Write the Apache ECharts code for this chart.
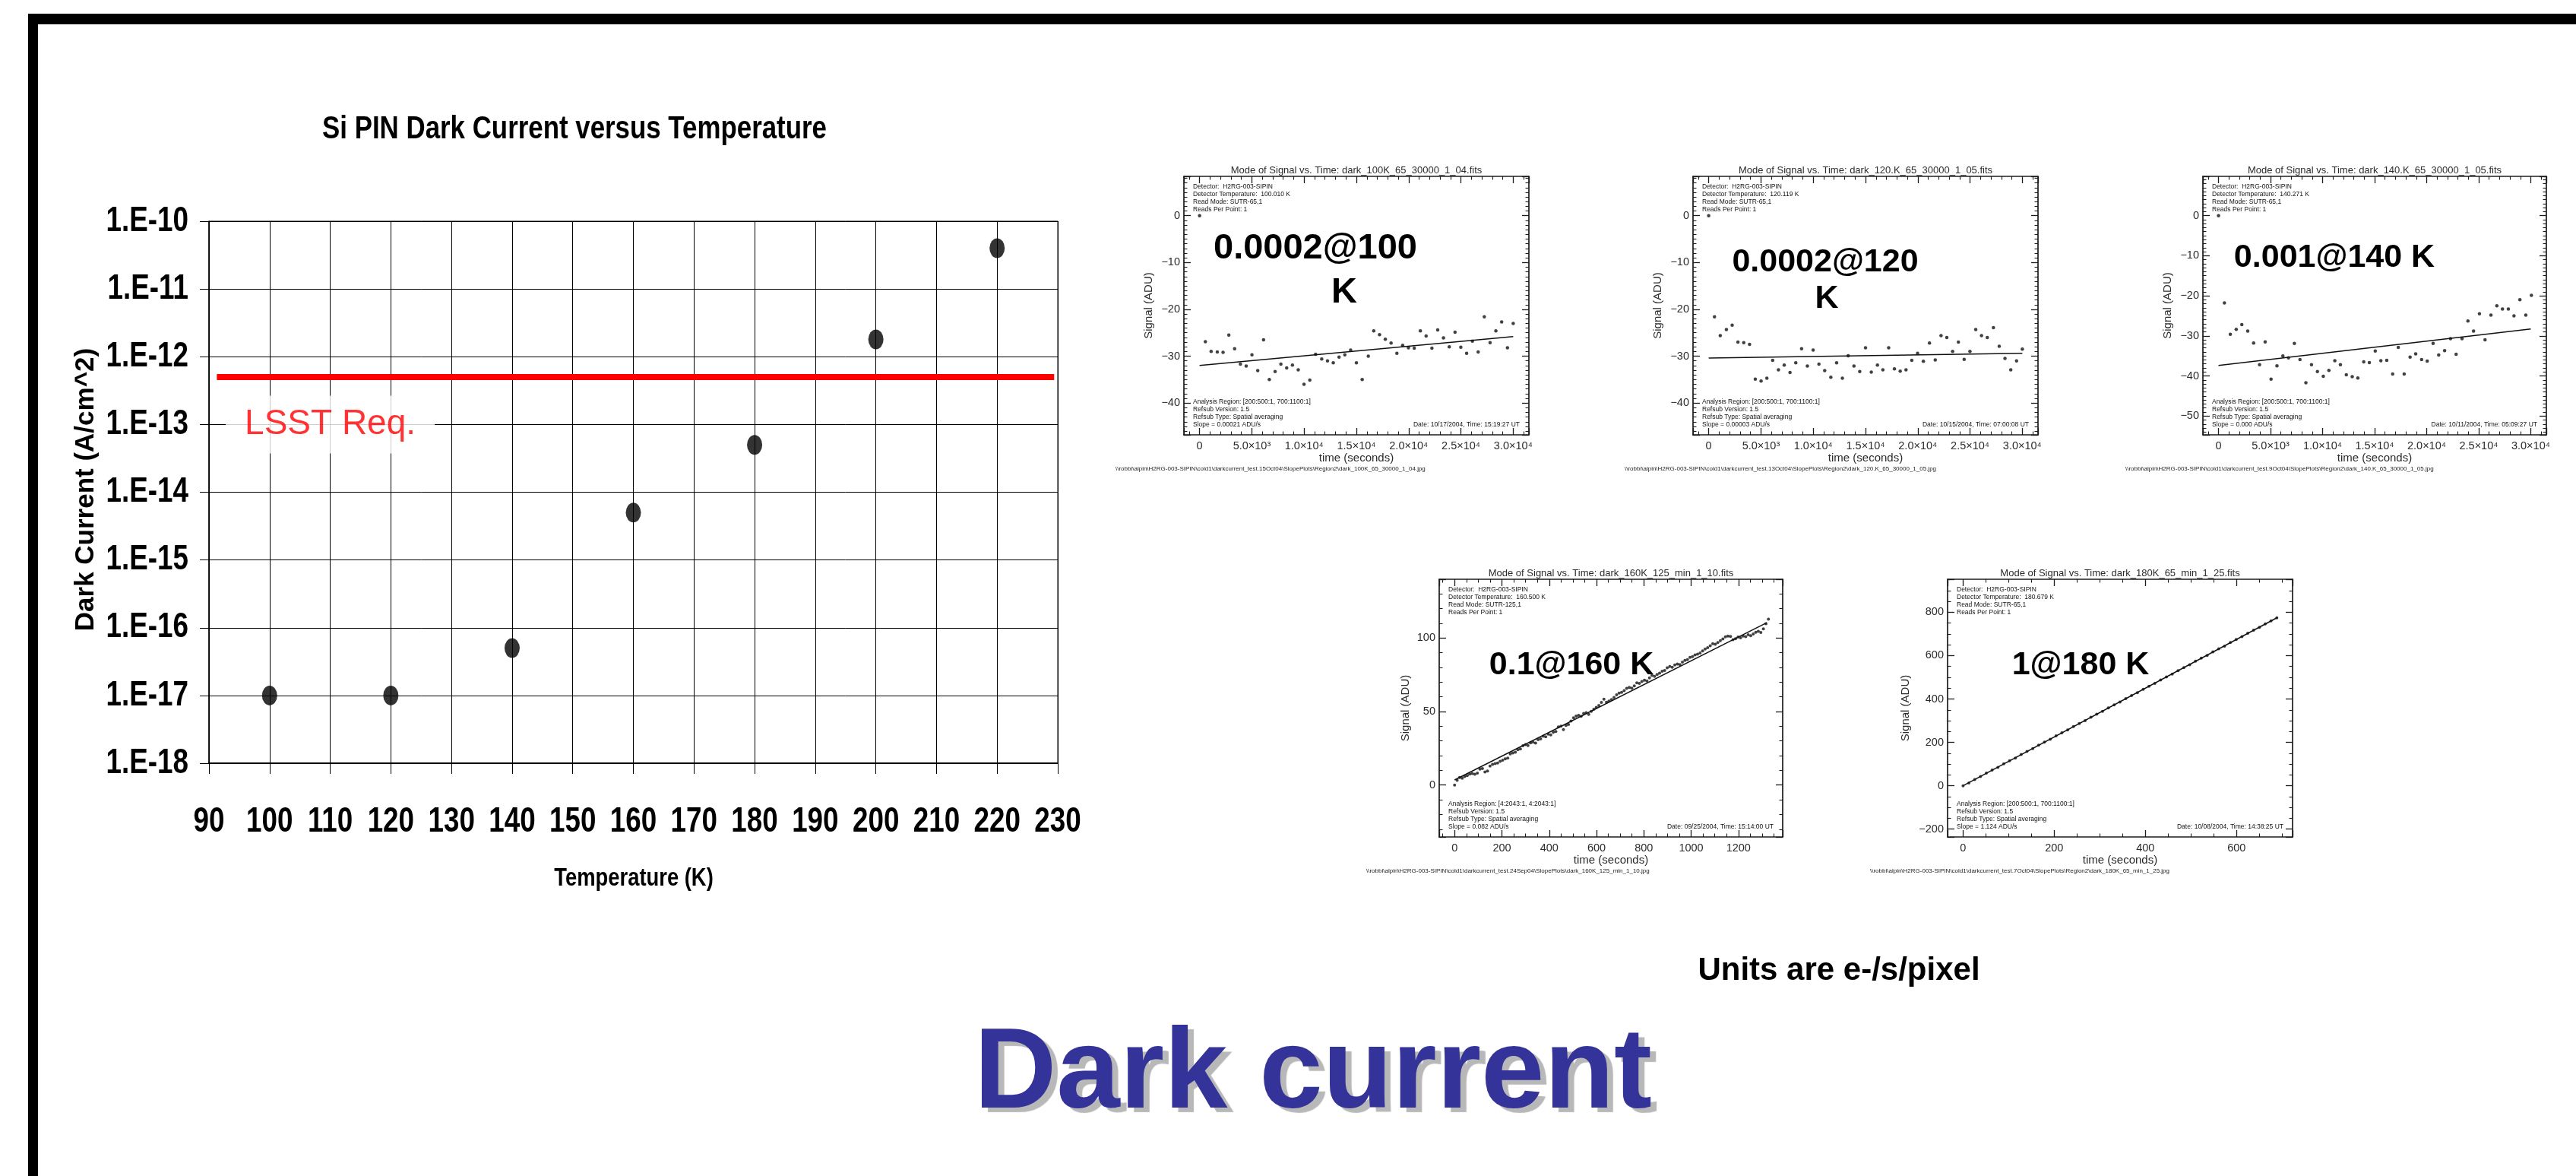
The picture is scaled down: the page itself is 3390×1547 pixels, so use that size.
<!DOCTYPE html>
<html>
<head>
<meta charset="utf-8">
<script src="https://cdn.jsdelivr.net/npm/echarts@6/dist/echarts.min.js"></script>
<style>
  html, body { margin: 0; padding: 0; background: #ffffff; }
  #slide { width: 3390px; height: 1547px; }
</style>
</head>
<body>
<div id="slide"></div>
<script>
// ---------------- Si PIN dark current versus temperature ----------------
const temperaturesK = [100, 120, 140, 160, 180, 200, 220];
const darkCurrentAcm2 = [1e-17, 1e-17, 5e-17, 5e-15, 5e-14, 1.8e-12, 4e-11];
const lsstRequirement = 5e-13;
const lsstSpanK = [91.3, 229.4];
const lsstLabelAt = [110, 1e-13];
const temperatureTicks = [90, 100, 110, 120, 130, 140, 150, 160, 170, 180, 190, 200, 210, 220, 230];
const decadeValues = [1e-18, 1e-17, 1e-16, 1e-15, 1e-14, 1e-13, 1e-12, 1e-11, 1e-10];
const decadeLabels = ['1.E-18', '1.E-17', '1.E-16', '1.E-15', '1.E-14', '1.E-13', '1.E-12', '1.E-11', '1.E-10'];

// ---------------- signal ramps (ADU versus seconds) ----------------
const times100 = [0, 553, 1106, 1692, 2245, 2798, 3352, 3905, 4458, 5011, 5564, 6118, 6671, 7224, 7777, 8330, 8883, 9437, 9990, 10543,
  11096, 11682, 12235, 12788, 13341, 13894, 14448, 15001, 15554, 16140, 16660, 17214, 17767, 18320, 18873, 19426, 19980, 20533, 21118, 21671,
  22225, 22778, 23331, 23884, 24437, 24990, 25544, 26097, 26650, 27236, 27789, 28342, 28895, 29448, 30001];
const signal100 = [0, -26.9, -29.0, -29.1, -29.2, -25.5, -28.4, -31.7, -32.1, -29.7, -33.1, -26.5, -35.0, -33.3, -31.7, -32.5, -31.9, -32.9, -36.0, -35.1,
  -29.6, -30.6, -31.0, -31.4, -30.2, -29.7, -28.7, -31.4, -35.0, -30.0, -24.6, -25.4, -26.4, -27.2, -29.4, -27.7, -28.2, -28.3, -24.6, -25.7,
  -28.3, -24.4, -26.1, -28.0, -24.9, -28.1, -29.4, -26.8, -29.1, -21.6, -27.1, -24.6, -22.7, -28.2, -23.0];
const fit100 = [[0, -32.0], [30000, -25.8]];

const times120 = [0, 553, 1106, 1692, 2245, 2798, 3352, 3905, 4458, 5011, 5564, 6118, 6671, 7224, 7777, 8330, 8883, 9437, 9990, 10543,
  11096, 11682, 12235, 12788, 13341, 13894, 14448, 15001, 15554, 16140, 16660, 17214, 17767, 18320, 18873, 19426, 19980, 20533, 21118, 21671,
  22225, 22778, 23331, 23884, 24437, 24990, 25544, 26097, 26650, 27236, 27789, 28342, 28895, 29448, 30001];
const signal120 = [0, -21.6, -25.6, -24.3, -23.4, -27.0, -27.1, -27.5, -34.9, -35.3, -34.7, -30.9, -32.9, -31.9, -33.5, -31.4, -28.4, -32.1, -28.7, -31.7,
  -33.1, -34.5, -31.4, -34.7, -29.9, -32.1, -33.3, -28.2, -33.4, -31.9, -32.9, -28.2, -32.7, -33.2, -32.9, -30.9, -29.4, -31.1, -27.2, -30.8,
  -25.6, -26.0, -29.0, -27.0, -30.7, -29.0, -24.3, -25.6, -26.0, -23.9, -27.9, -30.5, -32.9, -31.0, -28.5];
const fit120 = [[0, -30.4], [30000, -29.4]];

const times140 = [0, 567, 1134, 1702, 2240, 2808, 3375, 3942, 4481, 5048, 5615, 6183, 6722, 7289, 7827, 8394, 8933, 9501, 10068, 10607,
  11174, 11712, 12280, 12847, 13386, 13953, 14492, 15059, 15598, 16165, 16732, 17271, 17838, 18406, 18944, 19512, 20050, 20618, 21157, 21724,
  22291, 22830, 23397, 23964, 24503, 25070, 25609, 26176, 26743, 27282, 27849, 28388, 28956, 29523, 30062];
const signal140 = [0, -21.8, -29.6, -28.4, -27.2, -28.8, -31.8, -37.2, -31.5, -40.8, -37.5, -35.0, -35.5, -31.9, -35.9, -41.7, -37.2, -38.9, -40.1, -38.6,
  -36.2, -37.2, -39.7, -40.2, -40.5, -36.5, -36.7, -33.8, -36.2, -36.1, -39.5, -32.9, -39.5, -35.3, -34.5, -35.9, -36.3, -31.9, -34.8, -33.7,
  -30.7, -34.6, -30.7, -26.3, -28.8, -24.5, -31.0, -24.8, -22.5, -23.3, -23.3, -25.0, -21.0, -24.8, -19.9];
const fit140 = [[0, -37.4], [30000, -28.3]];

const times160 = [0.0, 10.7, 21.4, 32.1, 42.8, 53.5, 64.2, 74.9, 85.6, 96.3, 107.0, 117.7, 128.4, 139.1, 149.8, 160.5, 171.2, 181.9, 192.6, 203.3,
  214.0, 224.7, 235.4, 246.1, 256.8, 267.5, 278.2, 288.9, 299.6, 310.3, 321.0, 331.7, 342.4, 353.1, 363.8, 374.5, 385.2, 395.9, 406.6, 417.3,
  428.0, 438.7, 449.4, 460.1, 470.8, 481.5, 492.2, 502.9, 513.6, 524.3, 535.0, 545.7, 556.4, 567.1, 577.8, 588.5, 599.2, 609.9, 620.6, 631.3,
  642.0, 652.7, 663.4, 674.1, 684.8, 695.5, 706.2, 716.9, 727.6, 738.3, 749.0, 759.7, 770.4, 781.1, 791.8, 802.5, 813.2, 823.9, 834.6, 845.3,
  856.0, 866.7, 877.4, 888.1, 898.8, 909.5, 920.2, 930.9, 941.6, 952.3, 963.0, 973.7, 984.4, 995.1, 1005.8, 1016.5, 1027.2, 1037.9, 1048.6, 1059.3,
  1070.0, 1080.7, 1091.4, 1102.1, 1112.8, 1123.5, 1134.2, 1144.9, 1155.6, 1166.3, 1177.0, 1187.7, 1198.4, 1209.1, 1219.8, 1230.5, 1241.2, 1251.9, 1262.6, 1273.3,
  1284.0, 1294.7, 1305.4, 1316.1, 1326.8];
const signal160 = [0.0, 3.2, 5.1, 4.6, 5.8, 6.4, 7.5, 7.9, 7.4, 8.1, 10.8, 11.3, 8.9, 9.6, 12.9, 14.1, 14.6, 15.0, 16.2, 16.9,
  17.8, 18.3, 21.2, 21.9, 22.4, 24.1, 24.6, 26.8, 27.5, 26.9, 28.7, 29.2, 28.6, 30.9, 31.4, 33.2, 32.8, 34.6, 34.1, 35.9,
  36.4, 39.5, 40.1, 37.8, 40.6, 41.2, 43.5, 45.8, 46.9, 47.4, 46.8, 48.7, 49.3, 48.1, 50.2, 51.6, 52.9, 54.1, 56.2, 58.4,
  56.3, 57.1, 58.2, 59.6, 61.4, 62.6, 63.1, 64.3, 65.8, 66.4, 65.9, 67.5, 69.6, 69.1, 70.4, 71.3, 70.8, 72.9, 74.6, 73.9,
  75.2, 76.1, 77.4, 77.9, 79.8, 80.6, 80.1, 81.7, 82.3, 81.9, 83.6, 84.8, 85.3, 86.9, 87.4, 88.6, 89.1, 89.9, 91.2, 92.6,
  93.4, 94.7, 96.2, 95.8, 96.9, 98.2, 99.4, 100.8, 101.3, 101.1, 98.9, 99.6, 100.7, 100.2, 101.4, 100.9, 102.3, 101.6, 102.8, 103.9,
  104.6, 103.8, 106.2, 109.7, 112.9];
const fit160 = [[0, 3.5], [1320, 110.5]];

const times180 = [0, 12.75, 25.5, 38.25, 51.0, 63.75, 76.5, 89.25, 102.0, 114.75, 127.5, 140.25, 153.0, 165.75, 178.5, 191.25, 204.0, 216.75, 229.5, 242.25,
  255.0, 267.75, 280.5, 293.25, 306.0, 318.75, 331.5, 344.25, 357.0, 369.75, 382.5, 395.25, 408.0, 420.75, 433.5, 446.25, 459.0, 471.75, 484.5, 497.25,
  510.0, 522.75, 535.5, 548.25, 561.0, 573.75, 586.5, 599.25, 612.0, 624.75, 637.5, 650.25, 663.0, 675.75, 688.5];
const signal180 = [0, 13, 29, 43, 58, 72, 85, 101, 115, 128, 144, 158, 171, 187, 201, 214, 230, 244, 257, 273,
  287, 300, 316, 330, 343, 359, 373, 386, 402, 416, 429, 445, 459, 472, 488, 502, 515, 531, 545, 558,
  574, 588, 601, 617, 631, 644, 660, 674, 687, 703, 717, 730, 746, 760, 774];
const fit180 = [[0, 0], [690, 776]];

const longTimeTicks = [0, 5000, 10000, 15000, 20000, 25000, 30000];
const longTimeLabels = ['0', '5.0×10³', '1.0×10⁴', '1.5×10⁴', '2.0×10⁴', '2.5×10⁴', '3.0×10⁴'];

// ---------------- text printed on each ramp plot ----------------
const rampTitles = [
  'Mode of Signal vs. Time: dark_100K_65_30000_1_04.fits',
  'Mode of Signal vs. Time: dark_120.K_65_30000_1_05.fits',
  'Mode of Signal vs. Time: dark_140.K_65_30000_1_05.fits',
  'Mode of Signal vs. Time: dark_160K_125_min_1_10.fits',
  'Mode of Signal vs. Time: dark_180K_65_min_1_25.fits'
];
const rampHeaders = [
  ['Detector:  H2RG-003-SIPIN', 'Detector Temperature:  100.010 K', 'Read Mode: SUTR-65,1', 'Reads Per Point: 1'],
  ['Detector:  H2RG-003-SIPIN', 'Detector Temperature:  120.119 K', 'Read Mode: SUTR-65,1', 'Reads Per Point: 1'],
  ['Detector:  H2RG-003-SIPIN', 'Detector Temperature:  140.271 K', 'Read Mode: SUTR-65,1', 'Reads Per Point: 1'],
  ['Detector:  H2RG-003-SIPIN', 'Detector Temperature:  160.500 K', 'Read Mode: SUTR-125,1', 'Reads Per Point: 1'],
  ['Detector:  H2RG-003-SIPIN', 'Detector Temperature:  180.679 K', 'Read Mode: SUTR-65,1', 'Reads Per Point: 1']
];
const rampFooters = [
  ['Analysis Region: [200:500:1, 700:1100:1]', 'Refsub Version: 1.5', 'Refsub Type: Spatial averaging', 'Slope = 0.00021 ADU/s'],
  ['Analysis Region: [200:500:1, 700:1100:1]', 'Refsub Version: 1.5', 'Refsub Type: Spatial averaging', 'Slope = 0.00003 ADU/s'],
  ['Analysis Region: [200:500:1, 700:1100:1]', 'Refsub Version: 1.5', 'Refsub Type: Spatial averaging', 'Slope = 0.000 ADU/s'],
  ['Analysis Region: [4:2043:1, 4:2043:1]', 'Refsub Version: 1.5', 'Refsub Type: Spatial averaging', 'Slope = 0.082 ADU/s'],
  ['Analysis Region: [200:500:1, 700:1100:1]', 'Refsub Version: 1.5', 'Refsub Type: Spatial averaging', 'Slope = 1.124 ADU/s']
];
const rampDates = [
  'Date: 10/17/2004, Time: 15:19:27 UT',
  'Date: 10/15/2004, Time: 07:00:08 UT',
  'Date: 10/11/2004, Time: 05:09:27 UT',
  'Date: 09/25/2004, Time: 15:14:00 UT',
  'Date: 10/08/2004, Time: 14:38:25 UT'
];
const rampFiles = [
  String.raw`\\robbi\alpin\H2RG-003-SIPIN\cold1\darkcurrent_test.15Oct04\SlopePlots\Region2\dark_100K_65_30000_1_04.jpg`,
  String.raw`\\robbi\alpin\H2RG-003-SIPIN\cold1\darkcurrent_test.13Oct04\SlopePlots\Region2\dark_120.K_65_30000_1_05.jpg`,
  String.raw`\\robbi\alpin\H2RG-003-SIPIN\cold1\darkcurrent_test.9Oct04\SlopePlots\Region2\dark_140.K_65_30000_1_05.jpg`,
  String.raw`\\robbi\alpin\H2RG-003-SIPIN\cold1\darkcurrent_test.24Sep04\SlopePlots\dark_160K_125_min_1_10.jpg`,
  String.raw`\\robbi\alpin\H2RG-003-SIPIN\cold1\darkcurrent_test.7Oct04\SlopePlots\Region2\dark_180K_65_min_1_25.jpg`
];
const rateCallouts = [['0.0002@100', 'K'], ['0.0002@120', 'K'], ['0.001@140 K'], ['0.1@160 K'], ['1@180 K']];

// ---------------- layout & styling ----------------
const SANS = "'Liberation Sans', Arial, Helvetica, sans-serif";
const NARROW_SCALE = 0.8;   // horizontal squeeze that gives the condensed look of the main chart lettering
const INK = '#1c1c1c';

const mainBox = { left: 275, top: 291, width: 1117, height: 713 };

const ramps = [
  { box: { left: 1558, top: 232, width: 454, height: 340 }, x: [-1500, 31500], y: [-46.8, 8.4], xSplit: 6, ySplit: 6, xMinor: 5, yMinor: 10,
    t: times100, s: signal100, fit: fit100, longTime: true, nameGapY: 39, fileX: 1468,
    callout: [{ x: 1731, y: 327, size: 47 }, { x: 1769, y: 385, size: 47 }] },
  { box: { left: 2228, top: 232, width: 454, height: 340 }, x: [-1500, 31500], y: [-46.8, 8.4], xSplit: 6, ySplit: 6, xMinor: 5, yMinor: 10,
    t: times120, s: signal120, fit: fit120, longTime: true, nameGapY: 39, fileX: 2138,
    callout: [{ x: 2402, y: 345, size: 43 }, { x: 2404, y: 393, size: 43 }] },
  { box: { left: 2899, top: 232, width: 452, height: 340 }, x: [-1500, 31500], y: [-54.7, 9.8], xSplit: 6, ySplit: 6, xMinor: 5, yMinor: 10,
    t: times140, s: signal140, fit: fit140, longTime: true, nameGapY: 39, fileX: 2797,
    callout: [{ x: 3072, y: 339, size: 43 }] },
  { box: { left: 1894, top: 762, width: 452, height: 339 }, x: [-65, 1387], y: [-35.3, 140], xSplit: 7, ySplit: 4, xMinor: 4, yMinor: 5,
    t: times160, s: signal160, fit: fit160, longTime: false, nameGapY: 37, fileX: 1798,
    callout: [{ x: 2068, y: 875, size: 43 }] },
  { box: { left: 2563, top: 762, width: 454, height: 339 }, x: [-34, 723], y: [-236, 952], xSplit: 4, ySplit: 6, xMinor: 4, yMinor: 4,
    t: times180, s: signal180, fit: fit180, longTime: false, nameGapY: 48, fileX: 2461,
    callout: [{ x: 2738, y: 875, size: 43 }] }
];

function minusSign(v) { return String(v).replace('-', '\u2212'); }

function rampAxis(p, gridIndex, dim, position) {
  const isX = dim === 'x';
  const range = isX ? p.x : p.y;
  const labelled = position === 'bottom' || position === 'left';
  const axis = {
    type: 'value', gridIndex: gridIndex, position: position,
    min: range[0], max: range[1], splitNumber: isX ? p.xSplit : p.ySplit,
    axisLine: { show: true, onZero: false, lineStyle: { color: INK, width: 1.7 } },
    axisTick: { show: true, inside: true, length: 9, lineStyle: { color: INK, width: 1.3 } },
    minorTick: { show: true, splitNumber: isX ? p.xMinor : p.yMinor, length: 4.5, lineStyle: { color: INK, width: 1.1 } },
    splitLine: { show: false }, minorSplitLine: { show: false },
    axisLabel: { show: false }
  };
  if (labelled) {
    axis.axisLabel = {
      show: true, showMinLabel: false, showMaxLabel: false,
      margin: isX ? 7 : 5, color: '#2b2b2b', fontSize: 14.5, fontFamily: SANS,
      formatter: isX && p.longTime
        ? function (v) { const k = longTimeTicks.indexOf(v); return k >= 0 ? longTimeLabels[k] : ''; }
        : minusSign
    };
    axis.name = isX ? 'time (seconds)' : 'Signal (ADU)';
    axis.nameLocation = 'middle';
    axis.nameGap = isX ? 21 : p.nameGapY;
    axis.nameTextStyle = { color: '#2b2b2b', fontSize: 15, fontFamily: SANS };
  }
  return axis;
}

const grids = [Object.assign({ show: true, borderColor: '#000', borderWidth: 1, backgroundColor: 'transparent' }, mainBox)];
const xAxes = [{
  type: 'value', gridIndex: 0, min: 90, max: 230, interval: 10,
  axisLine: { show: true, onZero: false, lineStyle: { color: '#000', width: 2 } },
  axisTick: { show: true, inside: false, length: 14, lineStyle: { color: '#000', width: 1 } },
  splitLine: { show: true, lineStyle: { color: '#000', width: 1 } },
  axisLabel: { show: false }
}];
const yAxes = [{
  type: 'log', logBase: 10, gridIndex: 0, min: 1e-18, max: 1e-10,
  axisLine: { show: true, onZero: false, lineStyle: { color: '#000', width: 1.5 } },
  axisTick: { show: true, inside: false, length: 12, lineStyle: { color: '#000', width: 1 } },
  splitLine: { show: true, lineStyle: { color: '#000', width: 1 } },
  axisLabel: { show: false }
}];

const series = [
  {
    name: 'LSST Req.', type: 'line', xAxisIndex: 0, yAxisIndex: 0, symbol: 'none', z: 3,
    lineStyle: { color: '#ff0000', width: 8 },
    data: [[lsstSpanK[0], lsstRequirement], [lsstSpanK[1], lsstRequirement]]
  },
  {
    name: 'Dark current', type: 'scatter', xAxisIndex: 0, yAxisIndex: 0, z: 4,
    symbol: 'path://M0,-1A1,1,0,1,1,0,1A1,1,0,1,1,0,-1Z', symbolSize: [20, 26],
    itemStyle: { color: '#000' },
    data: temperaturesK.map(function (t, i) { return [t, darkCurrentAcm2[i]]; })
  },
  {
    name: 'LSST label', type: 'scatter', xAxisIndex: 0, yAxisIndex: 0, z: 5,
    symbolSize: 1, itemStyle: { color: 'rgba(0,0,0,0)' },
    label: {
      show: true, position: 'inside', formatter: 'LSST Req.',
      color: '#ff0000', fontSize: 46, fontFamily: SANS,
      backgroundColor: '#ffffff', padding: [15, 25, 15, 25]
    },
    data: [lsstLabelAt]
  }
];

const graphics = [
  // slide frame
  { type: 'rect', shape: { x: 37, y: 18, width: 3353, height: 14 }, style: { fill: '#000' }, z: 200 },
  { type: 'rect', shape: { x: 37, y: 18, width: 13, height: 1529 }, style: { fill: '#000' }, z: 200 },
  // main chart title and axis titles
  { type: 'text', x: 756, y: 170, z: 100, scaleX: 0.83,
    style: { text: 'Si PIN Dark Current versus Temperature', font: 'bold 42px ' + SANS, fill: '#000', align: 'center', verticalAlign: 'middle' } },
  { type: 'text', x: 834, y: 1156, z: 100, scaleX: 0.83,
    style: { text: 'Temperature (K)', font: 'bold 33px ' + SANS, fill: '#000', align: 'center', verticalAlign: 'middle' } },
  { type: 'text', x: 113, y: 644, z: 100, rotation: Math.PI / 2,
    style: { text: 'Dark Current (A/cm^2)', font: 'bold 35px ' + SANS, fill: '#000', align: 'center', verticalAlign: 'middle' } },
  // units note
  { type: 'text', x: 2420, y: 1277, z: 100,
    style: { text: 'Units are e-/s/pixel', font: 'bold 42px ' + SANS, fill: '#000', align: 'center', verticalAlign: 'middle' } },
  // slide heading
  { type: 'text', x: 1728, y: 1416, z: 100,
    style: { text: 'Dark current', font: 'bold 150px ' + SANS, fill: '#333399', align: 'center', verticalAlign: 'middle',
      textShadowColor: '#b8b8b8', textShadowOffsetX: 8, textShadowOffsetY: 6, textShadowBlur: 1 } }
];

ramps.forEach(function (p, i) {
  const g = i + 1;
  const b = p.box;
  grids.push(Object.assign({ show: false }, b));
  const xi = xAxes.length, yi = yAxes.length;
  xAxes.push(rampAxis(p, g, 'x', 'bottom'), rampAxis(p, g, 'x', 'top'));
  yAxes.push(rampAxis(p, g, 'y', 'left'), rampAxis(p, g, 'y', 'right'));
  series.push({
    type: 'line', xAxisIndex: xi, yAxisIndex: yi, symbol: 'none', z: 3,
    lineStyle: { color: '#111', width: 1.5 }, data: p.fit
  });
  series.push({
    type: 'scatter', xAxisIndex: xi, yAxisIndex: yi, z: 4,
    symbol: 'circle', symbolSize: i >= 3 ? 4 : 4.5, itemStyle: { color: '#111' },
    data: p.t.map(function (t, k) { return [t, p.s[k]]; })
  });

  const small = '8.5px ' + SANS;
  graphics.push({ type: 'text', x: b.left + b.width / 2, y: b.top - 8, z: 100,
    style: { text: rampTitles[i], font: '13px ' + SANS, fill: '#2b2b2b', align: 'center', verticalAlign: 'middle' } });
  rampHeaders[i].forEach(function (line, k) {
    graphics.push({ type: 'text', x: b.left + 12, y: b.top + 13.5 + k * 10.2, z: 100,
      style: { text: line, font: small, fill: '#111', align: 'left', verticalAlign: 'middle' } });
  });
  rampFooters[i].forEach(function (line, k) {
    graphics.push({ type: 'text', x: b.left + 12, y: b.top + b.height - 13 - (3 - k) * 10.2, z: 100,
      style: { text: line, font: small, fill: '#111', align: 'left', verticalAlign: 'middle' } });
  });
  graphics.push({ type: 'text', x: b.left + b.width - 12, y: b.top + b.height - 13, z: 100,
    style: { text: rampDates[i], font: small, fill: '#111', align: 'right', verticalAlign: 'middle' } });
  graphics.push({ type: 'text', x: p.fileX, y: b.top + b.height + 45, z: 100,
    style: { text: rampFiles[i], font: '8px ' + SANS, fill: '#222', align: 'left', verticalAlign: 'middle' } });
  rateCallouts[i].forEach(function (line, k) {
    const c = p.callout[k];
    graphics.push({ type: 'text', x: c.x, y: c.y, z: 150,
      style: { text: line, font: 'bold ' + c.size + 'px ' + SANS, fill: '#000', align: 'center', verticalAlign: 'middle' } });
  });
});

const chart = echarts.init(document.getElementById('slide'), null, { renderer: 'canvas', width: 3390, height: 1547 });
chart.setOption({
  animation: false,
  backgroundColor: '#ffffff',
  grid: grids,
  xAxis: xAxes,
  yAxis: yAxes,
  series: series
});

// Tick labels of the main chart: placed through the chart's own scales,
// squeezed horizontally for the condensed lettering.
temperatureTicks.forEach(function (t) {
  const pt = chart.convertToPixel({ gridIndex: 0 }, [t, decadeValues[0]]);
  graphics.push({ type: 'text', x: pt[0], y: pt[1] + 77, z: 100, scaleX: NARROW_SCALE,
    style: { text: String(t), font: 'bold 46px ' + SANS, fill: '#000', align: 'center', verticalAlign: 'middle' } });
});
decadeValues.forEach(function (d, k) {
  const pt = chart.convertToPixel({ gridIndex: 0 }, [temperatureTicks[0], d]);
  graphics.push({ type: 'text', x: pt[0] - 27, y: pt[1], z: 100, scaleX: NARROW_SCALE,
    style: { text: decadeLabels[k], font: 'bold 46px ' + SANS, fill: '#000', align: 'right', verticalAlign: 'middle' } });
});

chart.setOption({ graphic: graphics });
</script>
</body>
</html>
